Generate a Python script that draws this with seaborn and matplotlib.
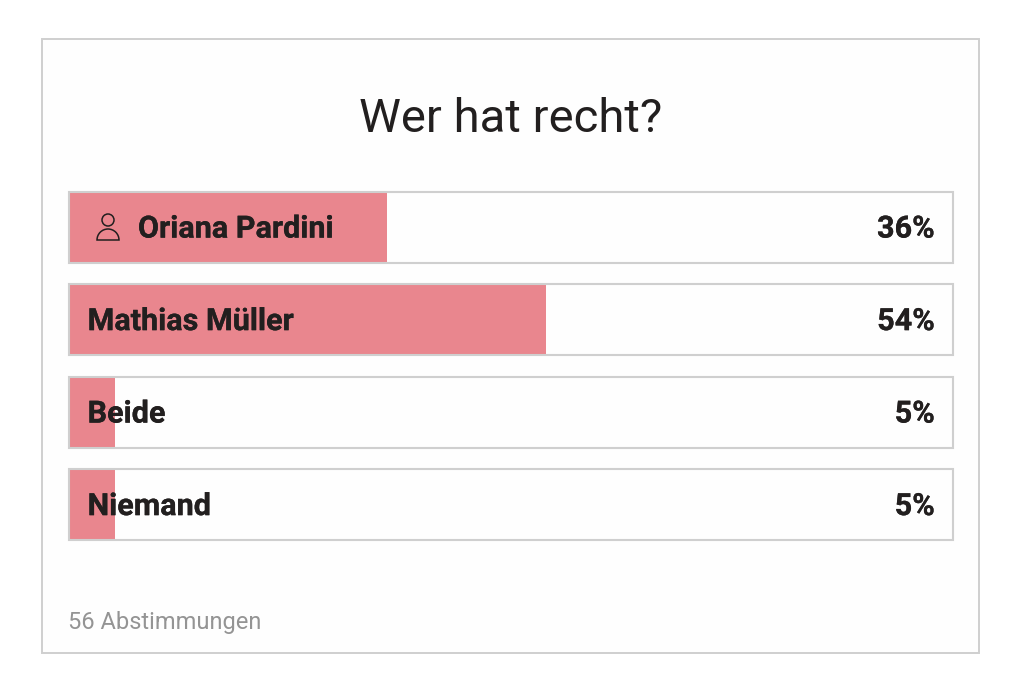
# -*- coding: utf-8 -*-
"""Umfrage: Wer hat recht?"""
import matplotlib
matplotlib.use('Agg')
import matplotlib.pyplot as plt
import matplotlib.patheffects as pe
from matplotlib.patches import Rectangle, Circle, Wedge
from matplotlib.transforms import Affine2D
import pandas as pd
import seaborn as sns

titel = "Wer hat recht?"
namen = ["Oriana Pardini", "Mathias Müller", "Beide", "Niemand"]
prozent = [36, 54, 5, 5]
balken = [36, 54, 5.2, 5.2]
gesamt = [100, 100, 100, 100]
fusszeile = "56 Abstimmungen"

ROT = '#e9868e'
RAND = '#cfcfcf'
TEXT = '#221f1f'
B, H = 1024, 695

sns.set_theme(style='white')
plt.rcParams['font.family'] = ['Roboto', 'DejaVu Sans']

df = pd.DataFrame({'name': namen, 'balken': balken, 'gesamt': gesamt})

fig = plt.figure(figsize=(B / 100, H / 100), dpi=100, facecolor='white')

# Pixel im Bild, y von oben gezaehlt
pixel = Affine2D().scale(1, -1).translate(0, H)

# Rahmen aussen
fig.add_artist(Rectangle((42, 39), 979 - 42, 653 - 39, transform=pixel, facecolor='#fefefe',
                         edgecolor=RAND, linewidth=1.4, zorder=-1))

ax = fig.add_axes([69 / B, 1 - 551 / H, (953 - 69) / B, 370 / H])
ax.patch.set_alpha(0)

sns.barplot(data=df, y='name', x='balken', color=ROT, saturation=1, width=0.765,
            linewidth=0, ax=ax)
sns.barplot(data=df, y='name', x='gesamt', color='white', saturation=1, width=0.765,
            edgecolor=RAND, linewidth=1.5, ax=ax)
# Umrandung liegt ueber den roten Balken
for bar in ax.containers[1]:
    bar.set_facecolor('none')
    bar.set_clip_on(False)
    bar.set_zorder(2)
ax.set_xlim(0, 100)
ax.set_ylim(3.5, -0.5)
ax.set_xlabel('')
ax.set_ylabel('')
ax.set_xticks([])
ax.set_yticks([])
sns.despine(ax=ax, left=True, bottom=True)

dicker = [pe.withStroke(linewidth=0.2, foreground=TEXT)]
for i, (n, p) in enumerate(zip(namen, prozent)):
    # der eigene Name steht hinter dem Symbol
    x_text = 7.8 if i == 0 else 2.1
    ax.text(x_text, i - 0.018, n, va='center_baseline', ha='left', fontsize=22, fontweight='bold',
            color=TEXT, path_effects=dicker)
    ax.text(97.9, i - 0.018, f'{p}%', va='center_baseline', ha='right', fontsize=22, fontweight='bold',
            color=TEXT, path_effects=dicker)

# Personen-Symbol
fig.add_artist(Circle((108, 220), 6, transform=pixel, fill=False, edgecolor=TEXT, linewidth=1.1, zorder=5))
fig.add_artist(Wedge((108, 240), 11, 180, 360, transform=pixel, fill=False, edgecolor=TEXT,
                     linewidth=1.1, zorder=5))

fig.text(511 / B, 1 - 115 / H, titel, ha='center', va='center_baseline', fontsize=34, color=TEXT)
fig.text(68.5 / B, 1 - 620 / H, fusszeile, ha='left', va='center_baseline', fontsize=17, color='#949494')

fig.savefig('out.png', dpi=100)
